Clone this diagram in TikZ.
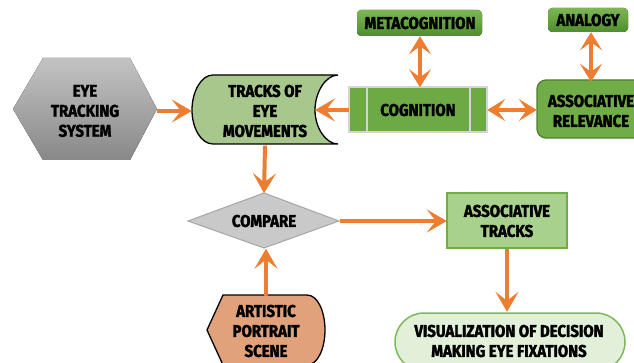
\documentclass[tikz,border=0pt]{standalone}
\usepackage{fontspec}
\newfontfamily\lblfont{Fira Sans}[FakeStretch=0.88, BoldFeatures={FakeBold=2}]
\usetikzlibrary{arrows.meta}

\definecolor{arrorange}{HTML}{ED7D31}
\definecolor{hexlight}{HTML}{C3C3C3}
\definecolor{hexdark}{HTML}{888888}
\definecolor{trackgreen}{HTML}{A8C78C}
\definecolor{coggreen}{HTML}{6CAB44}
\definecolor{cogedge}{HTML}{D4D4D4}
\definecolor{metatop}{HTML}{7CB754}
\definecolor{metabot}{HTML}{4F8D2E}
\definecolor{relgreen}{HTML}{70AD47}
\definecolor{reledge}{HTML}{4D7F2F}
\definecolor{cmpgray}{HTML}{C9C9C9}
\definecolor{cmpedge}{HTML}{A6A6A6}
\definecolor{atgreen}{HTML}{A9D18E}
\definecolor{atedge}{HTML}{70AD47}
\definecolor{vislight}{HTML}{E2F0D9}
\definecolor{visedge}{HTML}{7FB85A}
\definecolor{artfill}{HTML}{E0A17B}

\begin{document}
\begin{tikzpicture}[x=1pt,y=-1pt,
  lbl/.style={font=\lblfont\bfseries\fontsize{17}{20}\selectfont,
    align=center, inner sep=0pt, text=black},
  arr/.style={draw=arrorange, line width=4pt,
    -{Stealth[length=20pt,width=23pt,inset=9pt]}},
  darr/.style={draw=arrorange, line width=4pt,
    {Stealth[length=18pt,width=22pt,inset=8pt]}-{Stealth[length=18pt,width=22pt,inset=8pt]}}]

\clip (0,0) rectangle (634,363);

% eye tracking system (hexagon)
\fill[top color=hexlight, bottom color=hexdark]
  (13,109) -- (43,58) -- (130,58) -- (157,109) -- (130,160) -- (43,160) -- cycle;
\node[lbl, minimum width=144pt, minimum height=102pt] (eye) at (85,111)
  {EYE\\TRACKING\\SYSTEM};

% tracks of eye movements (stored data)
\filldraw[fill=trackgreen, draw=black, line width=1.3pt]
  (213,75) -- (338,75) .. controls (326,75) and (315,92) .. (315,110)
  .. controls (315,128) and (326,144) .. (338,144) -- (213,144)
  .. controls (201,144) and (192,128) .. (192,110)
  .. controls (192,92) and (201,75) .. (213,75) -- cycle;
\node[lbl, minimum width=146pt, minimum height=69pt] (tracks) at (265,111)
  {TRACKS OF\\EYE\\MOVEMENTS};
\coordinate (trin) at (315,110);

% cognition (predefined process)
\filldraw[fill=coggreen, draw=cogedge, line width=1.2pt] (349,87) rectangle (487,132);
\draw[cogedge, line width=1.2pt] (367,87) -- (367,132) (470,87) -- (470,132);
\node[lbl, minimum width=138pt, minimum height=45pt] (cog) at (418,110) {COGNITION};

% metacognition
\fill[top color=metatop, bottom color=metabot, rounded corners=4pt]
  (357,10) rectangle (482,36);
\node[lbl, minimum width=125pt, minimum height=26pt] (meta) at (420,23) {METACOGNITION};

% analogy
\fill[top color=metatop, bottom color=metabot, rounded corners=4pt]
  (548,8) rectangle (628,32);
\node[lbl, minimum width=80pt, minimum height=24pt] (analogy) at (588,20) {ANALOGY};

% associative relevance
\filldraw[fill=relgreen, draw=reledge, line width=1.3pt, rounded corners=9pt]
  (537,80) rectangle (645,138);
\node[lbl, minimum width=108pt, minimum height=58pt] (rel) at (591,111)
  {ASSOCIATIVE\\RELEVANCE};

% compare (decision)
\filldraw[fill=cmpgray, draw=cmpedge, line width=1pt]
  (188,221) -- (264,193) -- (339,221) -- (264,248) -- cycle;
\node[lbl, minimum width=151pt, minimum height=55pt] (cmp) at (264,221) {COMPARE};

% associative tracks
\filldraw[fill=atgreen, draw=atedge, line width=1.2pt] (447,193) rectangle (567,248);
\node[lbl, minimum width=120pt, minimum height=55pt] (at) at (507,221)
  {ASSOCIATIVE\\TRACKS};

% artistic portrait scene (display)
\filldraw[fill=artfill, draw=black, line width=1.3pt]
  (223,295) -- (307,295) .. controls (318,295) and (325,312) .. (325,330)
  .. controls (325,348) and (318,365) .. (307,365) -- (223,365) -- (207,330) -- cycle;
\node[lbl, minimum width=118pt, minimum height=70pt] (art) at (266,331)
  {ARTISTIC\\PORTRAIT\\SCENE};

% visualization (terminal)
\filldraw[fill=vislight, draw=visedge, line width=1.5pt, rounded corners=29pt]
  (395,313) rectangle (625,371);
\node[lbl, minimum width=230pt, minimum height=58pt] (vis) at (509,341)
  {VISUALIZATION OF DECISION\\MAKING EYE FIXATIONS};

% connectors
\draw[arr] (eye.east) -- (tracks.west);
\draw[arr] (cog.west) -- (trin);
\draw[darr] (meta.south) -- (meta.south |- cog.north);
\draw[darr] (analogy.south -| rel.north) -- (rel.north);
\draw[darr] (cog.east) -- (rel.west |- cog.east);
\draw[arr] (tracks.south) -- (cmp.north);
\draw[arr] (cmp.east) -- (at.west);
\draw[arr] (at.south) -- (vis.north -| at.south);
\draw[arr] (art.north) -- (art.north |- cmp.south);
\end{tikzpicture}
\end{document}
